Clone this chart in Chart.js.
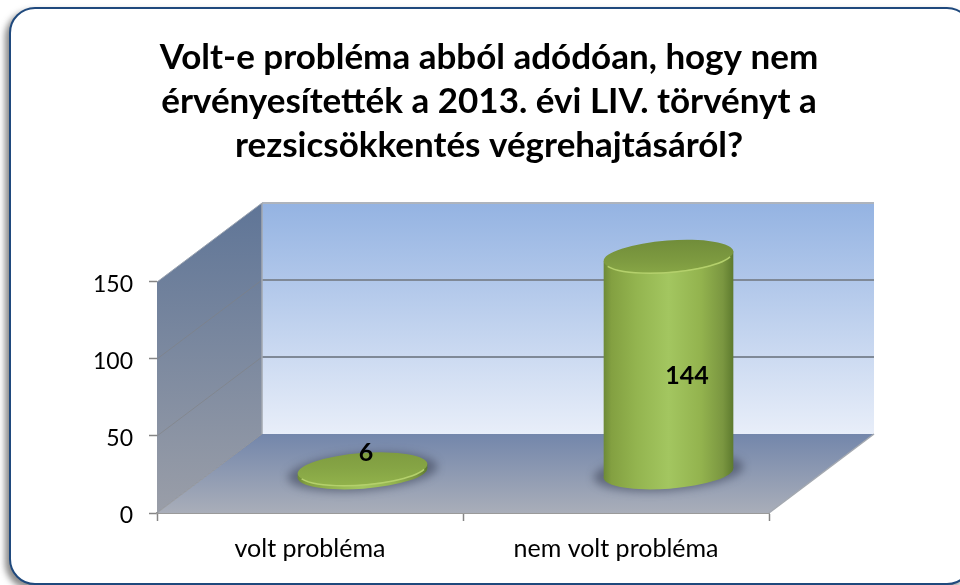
<!DOCTYPE html>
<html><head><meta charset="utf-8">
<style>
html,body{margin:0;padding:0;background:#fff;width:960px;height:585px;overflow:hidden}
#frame{position:absolute;left:9px;top:7px;width:960px;height:574px;border:2px solid #1f497d;border-radius:26px;box-shadow:-4px 4px 6px rgba(60,60,60,.6);background:#fff}
canvas{position:absolute;left:0;top:0}
</style>
<script src="https://cdn.jsdelivr.net/npm/chart.js@4/dist/chart.umd.min.js"></script>
</head><body>
<div id="frame"></div>
<canvas id="c" width="960" height="585"></canvas>
<script>
const titleLines = ["Volt-e probléma abból adódóan, hogy nem","érvényesítették a 2013. évi LIV. törvényt a","rezsicsökkentés végrehajtásáról?"];
const categories = ["volt probléma","nem volt probléma"];
const values = [6,144];
const FONT = "Lato, Carlito, Calibri, sans-serif";
const DX = 105, DY = -79;
const LABEL_NUDGE = [[56,-55],[71,-26]];

function lin(ctx,x0,y0,x1,y1,stops){const g=ctx.createLinearGradient(x0,y0,x1,y1);stops.forEach(s=>g.addColorStop(s[0],s[1]));return g;}
function poly(ctx,pts){ctx.beginPath();pts.forEach((p,i)=>i?ctx.lineTo(p[0],p[1]):ctx.moveTo(p[0],p[1]));ctx.closePath();}

const walls = {id:'walls',beforeDatasetsDraw(chart){
  const {ctx,scales:{x,y}}=chart; const L=x.left,R=x.right,T=y.getPixelForValue(150),B=y.getPixelForValue(0);
  ctx.save();
  ctx.fillStyle=lin(ctx,0,T+DY,0,B+DY,[[0,'#94b3e2'],[1,'#e8eef9']]);
  ctx.fillRect(L+DX,T+DY,R-L,B-T);
  poly(ctx,[[L,T],[L+DX,T+DY],[L+DX,B+DY],[L,B]]);
  ctx.fillStyle=lin(ctx,0,T+DY,0,B,[[0,'#5f7597'],[1,'#9a9ea8']]);ctx.fill();
  poly(ctx,[[L,B],[R,B],[R+DX,B+DY],[L+DX,B+DY]]);
  ctx.fillStyle=lin(ctx,0,B+DY,0,B,[[0,'#7386ab'],[1,'#a9aeb9']]);ctx.fill();
  y.ticks.forEach(t=>{const p=y.getPixelForValue(t.value);
    if(t.value>0){
      ctx.lineWidth=2;ctx.strokeStyle=t.value===150?'#aeb4bd':'#7f8997';
      ctx.beginPath();ctx.moveTo(L+DX,p+DY);ctx.lineTo(R+DX,p+DY);ctx.stroke();
    }
    ctx.lineWidth=1;ctx.strokeStyle=t.value===150?'#9aa3b0':'rgba(128,128,128,.55)';
    ctx.beginPath();ctx.moveTo(L,p);ctx.lineTo(L+DX,p+DY);ctx.stroke();
  });
  ctx.lineWidth=1.5;ctx.strokeStyle='#a3a8b0';
  ctx.beginPath();ctx.moveTo(L+DX,T+DY);ctx.lineTo(L+DX,B+DY);ctx.stroke();
  ctx.beginPath();ctx.moveTo(R,B);ctx.lineTo(R+DX,B+DY);ctx.stroke();
  ctx.restore();
}};

const cylinders = {id:'cylinders',afterDatasetsDraw(chart){
  const {ctx}=chart; const bars=chart.getDatasetMeta(0).data;
  const rot=-4.4*Math.PI/180, ry=15.7;
  bars.forEach((b,i)=>{
    const cx=b.x+52.5, rx=b.width/2, top=b.y-35, base=b.base-39.5;
    const ox=rx*Math.cos(rot), oy=rx*Math.sin(rot);
    ctx.save();
    ctx.filter='blur(4px)';ctx.fillStyle='rgba(50,55,75,.5)';
    ctx.beginPath();ctx.ellipse(cx,base-1,rx+10,ry+3,rot,0,Math.PI*2);ctx.fill();
    ctx.filter='none';
    const side=lin(ctx,cx-ox,0,cx+ox,0,[[0,'#6d8a38'],[.06,'#83a041'],[.25,'#93b44f'],[.5,'#a3c660'],[.75,'#93b34e'],[.92,'#7a9640'],[1,'#5d7a2e']]);
    ctx.fillStyle=side;
    ctx.beginPath();ctx.ellipse(cx,base,rx,ry,rot,0,Math.PI*2);ctx.fill();
    poly(ctx,[[cx-ox,top-oy],[cx+ox,top+oy],[cx+ox,base+oy],[cx-ox,base-oy]]);ctx.fill();
    ctx.fillStyle=lin(ctx,0,top-ry-4,0,top+ry+4,i===0?[[0,'#7d9a3f'],[.5,'#86a545'],[1,'#93b44c']]:[[0,'#6f8b39'],[.6,'#7d9a40'],[1,'#89a847']]);
    ctx.beginPath();ctx.ellipse(cx,top,rx,ry,rot,0,Math.PI*2);ctx.fill();
    ctx.strokeStyle='#b4d06c';ctx.lineWidth=1.5;
    ctx.beginPath();ctx.ellipse(cx,top+.5,rx-.5,ry,rot,Math.PI*.1,Math.PI*.9);ctx.stroke();
    ctx.restore();
    ctx.save();ctx.font='bold 25px '+FONT;ctx.fillStyle='#000';ctx.textAlign='center';ctx.textBaseline='middle';
    ctx.fillText(String(values[i]),b.x+LABEL_NUDGE[i][0],(b.y+b.base)/2+LABEL_NUDGE[i][1]);
    ctx.restore();
  });
}};

new Chart(document.getElementById('c'),{
  type:'bar',
  data:{labels:categories,datasets:[{data:values,backgroundColor:'rgba(0,0,0,0)',borderWidth:0,barPercentage:.85,categoryPercentage:.5}]},
  plugins:[walls,cylinders],
  options:{
    responsive:false,animation:false,
    layout:{padding:{left:18,right:0,top:0,bottom:20}},
    plugins:{legend:{display:false},tooltip:{enabled:false},
      title:{display:true,text:titleLines,color:'#000',font:{family:FONT,size:35,weight:'bold',lineHeight:1.257},padding:{top:36,bottom:114}}},
    scales:{
      x:{grid:{display:true,drawOnChartArea:false,drawTicks:true,tickLength:8,color:'#858585',tickWidth:1.5},
         border:{display:true,color:'#9a9a9a',width:2},
         ticks:{color:'#000',font:{family:FONT,size:25},padding:13,maxRotation:0},
         afterFit(s){s.height=52;}},
      y:{min:0,max:150,grid:{display:true,drawOnChartArea:false,tickLength:8,color:'#858585',tickWidth:1.5},
         border:{display:true,color:'#9a9a9a',width:1},
         ticks:{stepSize:50,color:'#000',font:{family:FONT,size:23,lineHeight:.26},padding:16,callback:v=>['',String(v)]},
         afterFit(s){s.width=139;}},
      spacer:{position:'right',display:true,grid:{display:false},border:{display:false},ticks:{display:false},afterFit(s){s.width=191;}}
    }
  }
});
</script>
</body></html>
